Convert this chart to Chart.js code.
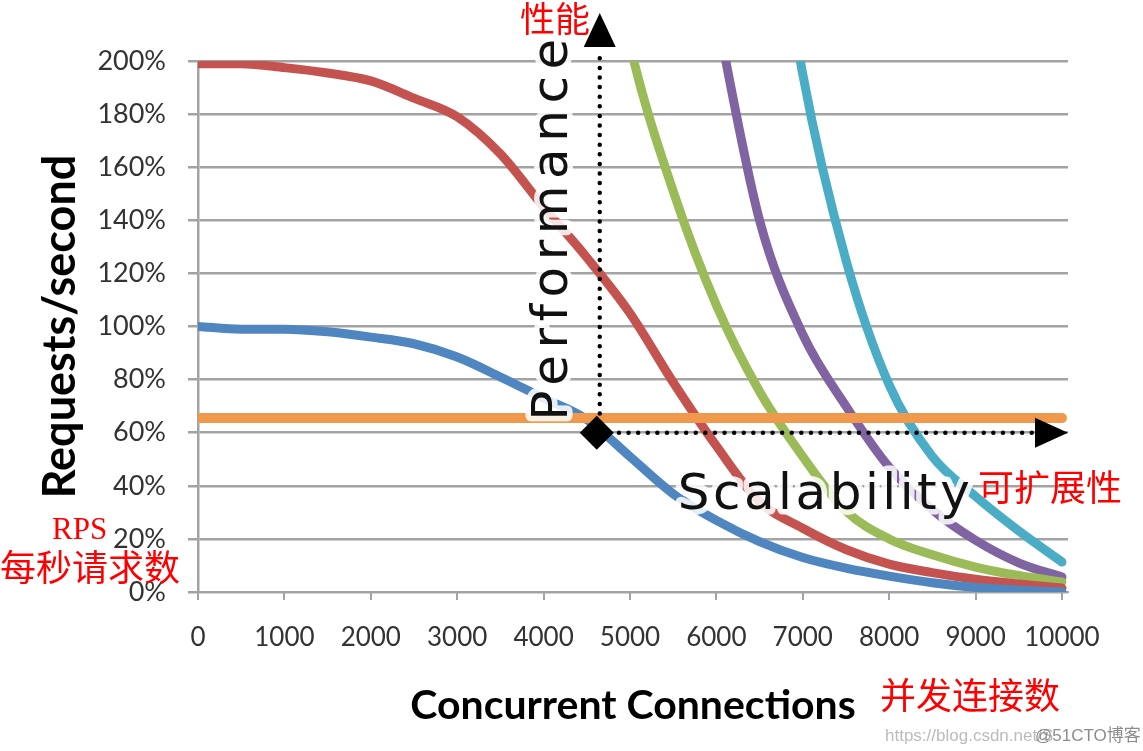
<!DOCTYPE html>
<html>
<head>
<meta charset="utf-8">
<script src="https://cdn.jsdelivr.net/npm/chart.js@4.4.1/dist/chart.umd.min.js"></script>
<style>
  html, body { margin: 0; padding: 0; background: #fff; }
  #wrap { width: 1143px; height: 751px; }
</style>
</head>
<body>
<div id="wrap"><canvas id="rpsChart" width="1143" height="751"></canvas></div>
<script>
// concurrent connections (x), step 500
var connections = [0, 500, 1000, 1500, 2000, 2500, 3000, 3500, 4000, 4500, 5000,
                   5500, 6000, 6500, 7000, 7500, 8000, 8500, 9000, 9500, 10000];

// requests/second in % (values above 200 are cut off by the axis)
var blueRps   = [100, 99, 99, 98, 96, 93.5, 88.5, 81, 73, 65, 51, 37, 27, 19, 13, 9, 6, 3.5, 1.7, 0.7, 0];
var redRps    = [199, 199, 197.5, 195.5, 192.5, 186, 179, 165, 145, 126, 105, 79, 55, 34, 24, 16, 10.5, 7.3, 4.8, 3, 1.5];
var greenRps  = [null, null, null, null, null, null, null, null, null, 290, 206, 151, 108, 75.5, 51, 30.5, 20, 14, 9.4, 6.2, 3.8];
var purpleRps = [null, null, null, null, null, null, null, null, null, null, null, 300, 218, 140, 97, 70, 47, 31, 19.5, 11, 5.6];
var cyanRps   = [null, null, null, null, null, null, null, null, null, null, null, null, null, 300, 195, 125, 78, 51, 36, 23, 11.3];
var orangeRps = [65.5, 65.5, 65.5, 65.5, 65.5, 65.5, 65.5, 65.5, 65.5, 65.5, 65.5,
                 65.5, 65.5, 65.5, 65.5, 65.5, 65.5, 65.5, 65.5, 65.5, 65.5];

var xTicks = [0, 1000, 2000, 3000, 4000, 5000, 6000, 7000, 8000, 9000, 10000];
var yTicks = [0, 20, 40, 60, 80, 100, 120, 140, 160, 180, 200];
var kneePoint = { x: 4650, y: 60 };

function pts(arr) {
  return connections.map(function (c, i) { return { x: c, y: arr[i] }; });
}

function line(data, color, width) {
  return {
    data: pts(data),
    borderColor: color,
    backgroundColor: color,
    borderWidth: width,
    borderCapStyle: 'round',
    borderJoinStyle: 'round',
    pointRadius: 0,
    cubicInterpolationMode: 'monotone',
    fill: false
  };
}

function haloText(ctx, text, x, y) {
  ctx.strokeStyle = 'rgba(255,255,255,0.85)';
  ctx.lineWidth = 11;
  ctx.strokeText(text, x, y);
  ctx.fillStyle = '#111';
  ctx.fillText(text, x, y);
}

var annotations = {
  id: 'annotations',
  afterDatasetsDraw: function (chart) {
    var ctx = chart.ctx, area = chart.chartArea;
    var px = chart.scales.x.getPixelForValue(kneePoint.x);
    var py = chart.scales.y.getPixelForValue(kneePoint.y);

    ctx.save();
    ctx.font = '50px "DejaVu Sans"';
    ctx.lineJoin = 'round';
    ctx.textBaseline = 'alphabetic';

    // Performance (rotated)
    ctx.save();
    ctx.letterSpacing = '6.5px';
    ctx.translate(px - 33, py - 12);
    ctx.rotate(-Math.PI / 2);
    haloText(ctx, 'Performance', 0, 0);
    ctx.restore();

    // Scalability
    ctx.letterSpacing = '3.5px';
    haloText(ctx, 'Scalability', px + 78, py + 76);
    ctx.restore();

    // dotted arrows
    ctx.save();
    ctx.strokeStyle = '#000';
    ctx.fillStyle = '#000';
    ctx.lineWidth = 4.5;
    ctx.lineCap = 'round';
    ctx.setLineDash([0, 9.6]);
    ctx.beginPath();
    ctx.moveTo(px, py);
    ctx.lineTo(px, area.top - 12);
    ctx.moveTo(px, py);
    ctx.lineTo(area.right - 34, py);
    ctx.stroke();
    ctx.setLineDash([]);

    ctx.beginPath();
    ctx.moveTo(px, area.top - 48);
    ctx.lineTo(px + 16, area.top - 14);
    ctx.lineTo(px - 16, area.top - 14);
    ctx.closePath();
    ctx.fill();

    ctx.beginPath();
    ctx.moveTo(area.right, py);
    ctx.lineTo(area.right - 33, py - 15);
    ctx.lineTo(area.right - 33, py + 15);
    ctx.closePath();
    ctx.fill();

    // knee diamond
    ctx.beginPath();
    ctx.moveTo(px - 3, py - 17);
    ctx.lineTo(px + 14, py);
    ctx.lineTo(px - 3, py + 17);
    ctx.lineTo(px - 20, py);
    ctx.closePath();
    ctx.fill();
    ctx.restore();
  },
  afterDraw: function (chart) {
    var ctx = chart.ctx;
    ctx.save();
    ctx.fillStyle = '#ff0000';
    ctx.textBaseline = 'middle';
    ctx.font = '35px "Liberation Serif", "Noto Sans CJK SC"';
    ctx.fillText('性能', 520, 23);
    ctx.font = '36px "Liberation Serif", "Noto Sans CJK SC"';
    ctx.fillText('每秒请求数', 0, 572);
    ctx.fillText('可扩展性', 978, 492);
    ctx.fillText('并发连接数', 880, 700);
    ctx.font = '31px "Liberation Serif"';
    ctx.fillText('RPS', 52, 531);

    ctx.font = '17px "Liberation Sans", "Noto Sans CJK SC"';
    ctx.fillStyle = 'rgba(170,170,170,0.8)';
    ctx.fillText('https://blog.csdn.net/S', 885, 736);
    ctx.fillStyle = 'rgba(120,120,120,0.85)';
    ctx.fillText('@51CTO博客', 1035, 736);
    ctx.restore();
  }
};

var ctx = document.getElementById('rpsChart').getContext('2d');
new Chart(ctx, {
  type: 'line',
  data: {
    datasets: [
      line(orangeRps, '#f0994d', 10),
      line(blueRps, '#4f86c0', 9),
      line(redRps, '#c4534f', 9),
      line(greenRps, '#9bbb59', 9),
      line(purpleRps, '#8064a2', 9),
      line(cyanRps, '#4bacc6', 9)
    ]
  },
  options: {
    responsive: false,
    devicePixelRatio: 1,
    animation: false,
    layout: { padding: { left: 20, top: 61, right: 75, bottom: 6 } },
    plugins: {
      legend: { display: false },
      tooltip: { enabled: false }
    },
    scales: {
      x: {
        type: 'linear',
        min: 0,
        max: 10070,
        afterFit: function (scale) { scale.height = 153; },
        afterBuildTicks: function (scale) {
          scale.ticks = xTicks.map(function (v) { return { value: v }; });
        },
        ticks: {
          padding: 22,
          color: '#333',
          font: { family: 'Lato', size: 26 },
          callback: function (v) { return String(v); }
        },
        grid: { drawOnChartArea: false, drawTicks: true, tickLength: 8, color: '#a3a3a3', lineWidth: 2 },
        border: { display: true, color: '#a3a3a3', width: 2 },
        title: {
          display: true,
          text: 'Concurrent Connections',
          color: '#000',
          font: { family: 'Lato', size: 41, weight: 'bold' },
          padding: { top: 0, bottom: 15 }
        }
      },
      y: {
        min: 0,
        max: 200,
        afterFit: function (scale) { scale.width = 178; },
        afterBuildTicks: function (scale) {
          scale.ticks = yTicks.map(function (v) { return { value: v }; });
        },
        ticks: {
          padding: 22,
          color: '#333',
          font: { family: 'Lato', size: 27 },
          callback: function (v) { return v + '%'; }
        },
        grid: { drawTicks: true, tickLength: 10, color: '#a3a3a3', lineWidth: 2.5 },
        border: { display: true, color: '#a3a3a3', width: 2.5 },
        title: {
          display: true,
          text: 'Requests/second',
          color: '#000',
          font: { family: 'Lato', size: 45, weight: 'bold' },
          padding: { top: 13, bottom: 0 }
        }
      }
    }
  },
  plugins: [annotations]
});
</script>
</body>
</html>
